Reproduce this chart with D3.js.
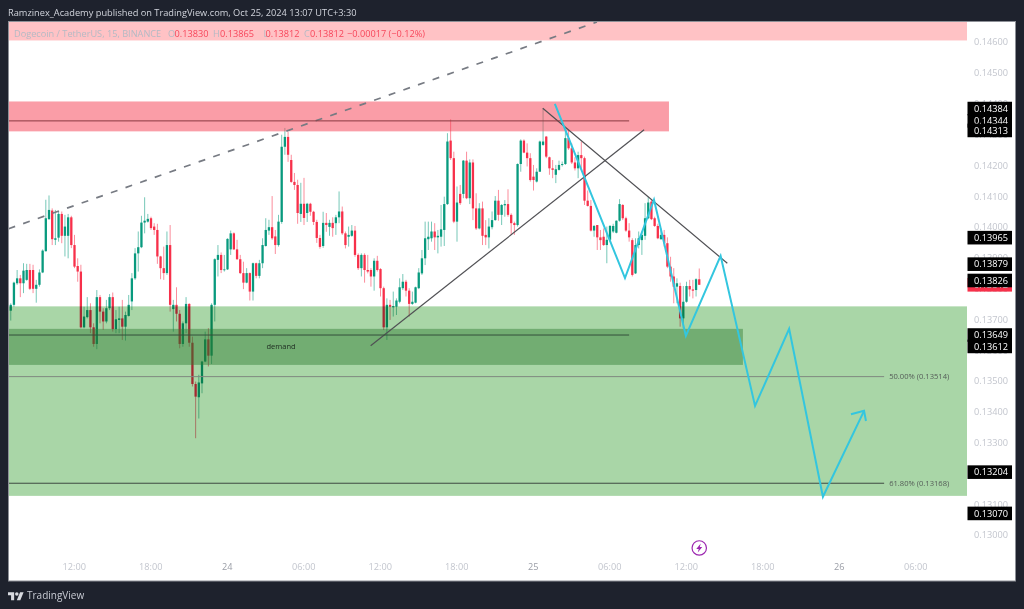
<!DOCTYPE html>
<html><head><meta charset="utf-8">
<script src="https://cdn.jsdelivr.net/npm/d3@7"></script>
<style>html,body{margin:0;padding:0;background:#1e222d;overflow:hidden}svg{display:block;filter:blur(.3px)}</style>
</head><body><svg id="c" width="1024" height="609"></svg>
<script>
// OHLC, units of 0.00001 USDT, 15-minute bars
const opens=[13785,13728,13747,13817,13833,13817,13828,13860,13860,13799,13812,13852,13921,14025,14053,13958,13965,14042,13971,13971,14031,13941,13873,13855,13674,13707,13730,13674,13620,13772,13725,13693,13736,13772,13668,13698,13703,13676,13711,13758,13833,13914,13934,14014,14017,14028,14001,13990,13904,13866,13850,13941,13733,13747,13718,13620,13687,13750,13624,13490,13447,13492,13563,13635,13582,13747,13893,13909,13860,13862,13927,13979,13927,13895,13850,13819,13850,13790,13882,13841,13882,13938,13988,13999,13969,13941,14016,14260,14292,14217,14146,14136,14042,14075,14045,14075,14049,14016,13964,13938,14013,14000,14013,14012,14031,14050,13979,13968,13971,13988,13909,13866,13909,13860,13860,13839,13890,13863,13801,13674,13747,13739,13741,13757,13801,13822,13793,13750,13754,13801,13849,13898,13960,13963,13985,13966,13968,13990,14074,14280,14223,14017,14107,14107,14215,14093,14209,14060,13995,14060,13974,13966,13999,14022,14085,14039,14070,14074,14039,14012,14006,14204,14280,14241,14223,14163,14147,14179,14266,14293,14226,14190,14169,14185,14201,14204,14288,14255,14209,14190,14233,14223,14085,14068,13988,14006,13966,13968,13941,13958,13985,13981,14020,14071,14028,13988,13957,13849,13941,13957,13971,14028,14082,14028,14003,13960,13974,13947,13871,13839,13806,13808,13703,13757,13808,13797,13795,13830];
const highs=[13795,13752,13822,13860,13844,13882,13880,13880,13877,13828,13862,13927,14088,14102,14060,14055,14050,14050,14039,14042,14036,13974,13898,13877,13741,13772,13752,13687,13795,13779,13736,13763,13782,13787,13730,13741,13763,13725,13779,13850,13931,13985,14036,14096,14042,14033,14012,14010,13906,13936,13985,14006,13763,13804,13730,13693,13772,13752,13644,13498,13520,13565,13660,13671,13752,13898,13941,13917,13909,13963,13988,13982,13958,13909,13887,13866,13852,13884,13884,13893,13963,14028,14023,14100,13990,14039,14299,14321,14308,14234,14175,14153,14143,14159,14078,14078,14052,14023,13974,14049,14045,14023,14031,14039,14115,14066,13985,14001,14006,14003,13914,13914,13914,13909,13866,13898,13906,13866,13806,13768,13763,13790,13768,13833,13847,13828,13801,13790,13806,13866,13925,14017,14017,14017,14012,13990,14071,14098,14304,14349,14244,14131,14136,14217,14244,14219,14219,14109,14077,14082,14022,14028,14050,14100,14120,14074,14087,14122,14044,14017,14206,14284,14284,14271,14239,14201,14190,14280,14384,14295,14228,14217,14201,14215,14212,14320,14315,14271,14226,14244,14277,14228,14118,14087,14006,14006,13990,13995,14001,14006,14010,14021,14090,14074,14033,14012,13963,13963,13985,13985,14077,14098,14087,14033,14010,13995,13990,13966,13903,13866,13833,13819,13808,13822,13828,13828,13833,13865];
const lows=[13730,13696,13741,13812,13772,13785,13825,13795,13785,13754,13806,13850,13920,14023,13941,13941,13952,13947,13904,13898,13931,13866,13822,13671,13671,13703,13655,13611,13603,13687,13666,13687,13730,13660,13655,13655,13633,13631,13709,13730,13828,13855,13931,13979,14014,13990,13974,13880,13830,13828,13844,13725,13660,13693,13606,13611,13655,13611,13482,13314,13378,13460,13561,13547,13555,13693,13839,13850,13855,13860,13909,13925,13893,13847,13798,13817,13761,13761,13833,13833,13866,13936,13974,13958,13912,13936,14010,14234,14211,14143,14120,14010,14016,14006,14016,14036,14006,13948,13929,13932,13984,13971,13968,13974,14012,13974,13930,13936,13968,13903,13860,13839,13819,13849,13806,13793,13855,13774,13665,13633,13698,13709,13714,13752,13795,13774,13709,13747,13752,13798,13844,13876,13925,13952,13925,13914,13936,13938,14071,14217,14012,13952,14071,14093,14090,14074,14022,13990,13992,13941,13941,13930,13992,14020,14020,14006,14033,14033,13974,13974,14001,14179,14239,14196,14147,14118,14144,14179,14263,14223,14169,14158,14142,14183,14196,14201,14250,14204,14183,14158,14190,14071,14066,13985,13968,13925,13925,13938,13882,13952,13980,13979,14017,14022,13984,13952,13839,13847,13930,13909,13958,14025,14022,14000,13960,13958,13936,13866,13822,13752,13752,13676,13671,13754,13774,13768,13774,13812];
const closes=[13741,13747,13819,13833,13817,13858,13860,13799,13799,13812,13852,13923,14028,14055,13960,13963,14042,13971,14001,14031,13941,13871,13855,13674,13709,13730,13674,13620,13772,13725,13693,13736,13772,13668,13700,13703,13676,13714,13747,13833,13914,13934,14014,14020,14026,13996,13990,13904,13866,13850,13941,13747,13747,13718,13620,13687,13750,13624,13490,13449,13495,13563,13635,13582,13747,13895,13909,13860,13862,13961,13979,13927,13895,13850,13819,13850,13790,13882,13841,13882,13941,13990,13999,13963,13941,14017,14260,14292,14234,14146,14136,14045,14075,14029,14075,14049,14016,13964,13935,14013,14006,14013,13996,14031,14050,13979,13941,13974,13988,13909,13866,13909,13860,13855,13839,13890,13860,13801,13674,13747,13741,13743,13761,13804,13822,13793,13750,13757,13804,13852,13898,13963,13968,13985,13966,13971,13992,14074,14277,14223,14017,14079,14077,14215,14093,14209,14060,13995,14060,13971,13966,14001,14022,14085,14039,14071,14074,14039,14012,14006,14204,14280,14241,14223,14152,14152,14179,14277,14277,14228,14190,14185,14187,14201,14204,14288,14255,14209,14190,14233,14223,14085,14068,13988,14003,13966,13957,13941,13958,14003,14003,14020,14074,14028,13988,13966,13844,13941,13963,13974,14028,14079,14025,14003,13963,13974,13947,13871,13839,13806,13817,13703,13757,13808,13797,13793,13830,13812];

const priceTicks=[14600,14500,14400,14300,14200,14100,14000,13900,13800,13700,13600,13500,13400,13300,13200,13100,13000];
const timeBars=[21,45,69,93,117,141,165,189,213,237,261,285];
const timeLabels=["12:00","18:00","24","06:00","12:00","18:00","25","06:00","12:00","18:00","26","06:00"];
const tagPrices=[14384,14344,14313,13965,13879,13812,13826,13649,13612,13204,13070];
const tagColors=["k","k","k","k","k","r","k","k","k","k","k"];
const zoneBars=[[0.3,301],[0.3,301],[0.3,207.5],[0.3,230.7]];
const zonePrices=[[14665,14605],[13742,13127],[14407,14310],[13669,13552]];
const zoneFills=["#ffc2c5","#a9d6a7","rgba(246,60,80,0.5)","rgba(46,125,50,0.45)"];
const dashedTrend=[[0.3,13994],[184.9,14665]];
const riseTrend=[[113.9,13614],[199.7,14315]];
const fallTrend=[[167.9,14385],[225.8,13882]];
const levels=[14344,13649];
const levelEndBar=195;
const fibPrices=[13514,13168];
const fibLabels=["50.00% (0.13514)","61.80% (0.13168)"];
const fibEndBar=275;
const demandBar=85.8;
const projection=[[171.7,14399],[193.7,13834],[202.8,14088],[212.8,13646],[223.7,13906],[234.5,13419],[245.2,13669],[255.8,13124],[268.7,13403]];
const arrowHead=[[264.6,13392],[268.7,13403],[269.3,13370]];

const font="'Open Sans',Roboto,sans-serif";
const svg=d3.select("#c");
const x=d3.scaleLinear().domain([21,285]).range([74.5,916]);
const y=d3.scaleLinear().domain([13000,14600]).range([535,42]);
const L=8.5,R=967,T=21.5,B=581,FR=1015.5;

svg.append("rect").attr("width",1024).attr("height",609).attr("fill","#1e222d");
svg.append("rect").attr("x",L).attr("y",T).attr("width",FR-L).attr("height",B-T).attr("fill","#fff").attr("stroke","#8d9097").attr("stroke-width",1);
svg.append("text").attr("x",8).attr("y",16).attr("font-family",font).attr("font-size",9.25).attr("fill","#d1d4dc")
  .text("Ramzinex_Academy published on TradingView.com, Oct 25, 2024 13:07 UTC+3:30");

svg.append("clipPath").attr("id","pl").append("rect").attr("x",L+.5).attr("y",T+.5).attr("width",R-L).attr("height",B-T-1);
const g=svg.append("g").attr("clip-path","url(#pl)");

const bars=d3.range(opens.length);
const col=i=>closes[i]>=opens[i]?"#089a7e":"#f7304a";
g.append("g").selectAll("line").data(bars).join("line")
  .attr("x1",x).attr("x2",x).attr("y1",i=>y(highs[i])).attr("y2",i=>y(lows[i]))
  .attr("stroke",col).attr("stroke-width",1).attr("stroke-opacity",.55);
g.append("g").selectAll("rect").data(bars).join("rect")
  .attr("x",i=>x(i)-1.15).attr("width",2.3)
  .attr("y",i=>y(Math.max(opens[i],closes[i])))
  .attr("height",i=>Math.max(.8,Math.abs(y(opens[i])-y(closes[i]))))
  .attr("fill",col);

g.append("g").selectAll("rect").data(zoneBars).join("rect")
  .attr("x",d=>x(d[0])).attr("width",d=>x(d[1])-x(d[0]))
  .attr("y",(d,i)=>y(zonePrices[i][0])).attr("height",(d,i)=>y(zonePrices[i][1])-y(zonePrices[i][0]))
  .attr("fill",(d,i)=>zoneFills[i]).attr("style",(d,i)=>i==1?"mix-blend-mode:multiply":null);

const line=d3.line().x(d=>x(d[0])).y(d=>y(d[1]));
g.append("path").attr("d",line(dashedTrend)).attr("fill","none").attr("stroke","#777b83").attr("stroke-width",1.7).attr("stroke-dasharray","7 8.5");
[riseTrend,fallTrend].forEach(t=>g.append("path").attr("d",line(t)).attr("fill","none").attr("stroke","#505054").attr("stroke-width",1.2));
levels.forEach((p,i)=>g.append("line").attr("x1",L).attr("x2",x(levelEndBar)).attr("y1",y(p)).attr("y2",y(p)).attr("stroke",i?"#33503a":"#8a3a40").attr("stroke-width",1));
fibPrices.forEach((p,i)=>{
  g.append("line").attr("x1",L).attr("x2",x(fibEndBar)).attr("y1",y(p)).attr("y2",y(p)).attr("stroke",i?"#3f4a42":"#7f8a80").attr("stroke-width",1);
  g.append("text").attr("x",x(fibEndBar)+5).attr("y",y(p)+2.7).attr("font-family",font).attr("font-size",7.6).attr("fill","#555d58").text(fibLabels[i]);
});
g.append("text").attr("x",x(demandBar)).attr("y",y(13649)+14).attr("font-family",font).attr("font-size",7.5).attr("fill","#1d2a20").attr("text-anchor","middle").text("demand");
g.append("path").attr("d",line(projection)).attr("fill","none").attr("stroke","#33c6df").attr("stroke-width",2).attr("stroke-linejoin","miter");
g.append("path").attr("d",line(arrowHead)).attr("fill","none").attr("stroke","#33c6df").attr("stroke-width",2);

// legend
const legendItems=[[14,"Dogecoin / TetherUS, 15, BINANCE","#b4bac4"],[168,"O","#b4bac4"],[174.5,"0.13830","#f7475c"],[213,"H","#b4bac4"],[220,"0.13865","#f7475c"],[263.5,"L","#b4bac4"],[265.5,"0.13812","#f7475c"],[304,"C","#b4bac4"],[310,"0.13812","#f7475c"],[347,"−0.00017 (−0.12%)","#f7475c"]];
svg.append("g").selectAll("text").data(legendItems).join("text")
  .attr("x",d=>d[0]).attr("y",37).attr("font-family",font).attr("font-size",9.2).attr("fill",d=>d[2]).text(d=>d[1]);

// axes
const ya=d3.axisRight(y).tickValues(priceTicks).tickSize(0).tickPadding(0).tickFormat(d=>(d/100000).toFixed(5));
const yg=svg.append("g").attr("transform",`translate(974,0)`).call(ya);
yg.select(".domain").remove();
yg.selectAll("text").attr("font-family",font).attr("font-size",9.2).attr("fill","#c3c6ce");
const xa=d3.axisBottom(x).tickValues(timeBars).tickSize(0).tickPadding(0).tickFormat((d,i)=>timeLabels[i]);
const xg=svg.append("g").attr("transform",`translate(-0.8,563)`).call(xa);
xg.select(".domain").remove();
xg.selectAll("text").attr("font-family",font).attr("font-size",9.2).attr("fill",(d,i)=>timeLabels[i].length==2?"#9a9da6":"#c3c6ce");

// price tags
const tags=svg.append("g").selectAll("g").data(tagPrices).join("g");
tags.append("rect").attr("x",967.5).attr("width",44.5).attr("y",d=>y(d)-6.8).attr("height",13.6).attr("fill",(d,i)=>tagColors[i]=="r"?"#f7304a":"#000");
tags.append("text").attr("x",974).attr("y",d=>y(d)+3.3).attr("font-family",font).attr("font-size",9.2).attr("fill","#fff").text(d=>(d/100000).toFixed(5));

// lightning marker
const mk=svg.append("g").attr("transform",`translate(${x(217)},${y(12958)})`);
mk.append("circle").attr("r",7.2).attr("fill","#fff").attr("stroke","#9c27b0").attr("stroke-width",1.2);
mk.append("path").attr("d","M1.5,-4.5 L-3,1 L-0.5,1 L-1.5,4.5 L3,-1 L0.5,-1 Z").attr("fill","#9c27b0");

// footer logo
const lg=svg.append("g").attr("transform","translate(8,590.5) scale(0.44)").attr("fill","#d8dae0");
lg.append("path").attr("d","M14 22H7V11H0V4h14v18zM28 22h-8l7.5-18h8L28 22z");
lg.append("circle").attr("cx",20).attr("cy",8).attr("r",4);
svg.append("text").attr("x",27).attr("y",598.5).attr("font-family",font).attr("font-size",10).attr("fill","#c8cbd3").text("TradingView");
</script></body></html>
